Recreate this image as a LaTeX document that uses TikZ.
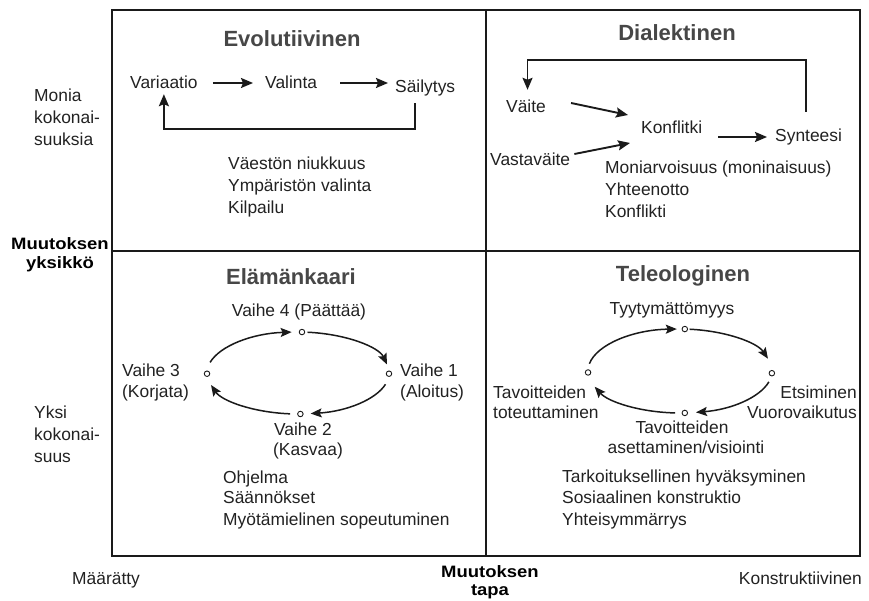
\documentclass[tikz,border=0pt]{standalone}
\usepackage{fontspec}
\setmainfont{Liberation Sans}
\newfontfamily\widebold{Liberation Sans}[FakeStretch=1.12]
\usetikzlibrary{arrows.meta,calc}
\definecolor{ink}{HTML}{222222}
\definecolor{titlegray}{HTML}{474747}
\definecolor{linec}{HTML}{1A1A1A}

\begin{document}
\begin{tikzpicture}[x=1pt,y=1pt,
  lbl/.style={font=\fontsize{17.4}{21}\selectfont, text=ink, inner sep=0pt,
              text height=13pt, text depth=4pt},
  ttl/.style={font=\fontsize{22}{26}\selectfont\bfseries, text=titlegray,
              inner sep=0pt, anchor=base},
  axislbl/.style={font=\widebold\bfseries\fontsize{16.5}{20}\selectfont, text=black,
              inner sep=0pt, anchor=base},
  flow/.style={draw=linec, line width=1.9pt,
              -{Stealth[length=12pt,width=10pt,inset=2pt]}},
  cyc/.style={draw=linec, line width=1.5pt,
              -{Stealth[length=11pt,width=9pt,inset=2pt]}},
  stagept/.style={circle, draw=linec, line width=0.9pt, fill=white,
              inner sep=0pt, minimum size=5.5pt},
  frame/.style={draw=linec, line width=1.9pt}
]
\useasboundingbox (0,0) rectangle (869,600);
\fill[white] (0,0) rectangle (869,600);

% four-field frame
\draw[frame] (112,44) rectangle (860,590);
\draw[frame] (486,44) -- (486,590);
\draw[frame] (112,349) -- (860,349);

% vertical axis
\node[lbl, anchor=base west] (m1) at (34,498) {Monia};
\node[lbl, anchor=base west] (m2) at (34,476) {kokonai-};
\node[lbl, anchor=base west] (m3) at (34,454) {suuksia};
\node[axislbl] (ay1) at (60,350) {Muutoksen};
\node[axislbl] (ay2) at (60,331) {yksikkö};
\node[lbl, anchor=base west] (y1) at (34,182) {Yksi};
\node[lbl, anchor=base west] (y2) at (34,160) {kokonai-};
\node[lbl, anchor=base west] (y3) at (34,138) {suus};

% horizontal axis
\node[lbl, anchor=base west] (bx1) at (72,16) {Määrätty};
\node[axislbl] (ax1) at (490,23) {Muutoksen};
\node[axislbl] (ax2) at (490,5) {tapa};
\node[lbl, anchor=base east] (bx2) at (862,16) {Konstruktiivinen};

% ---- Evolutiivinen ----
\node[ttl] (t1) at (292,553) {Evolutiivinen};
\node[lbl, anchor=base west] (var) at (130,511) {Variaatio};
\node[lbl, anchor=base west] (val) at (265,511) {Valinta};
\node[lbl, anchor=base west] (sai) at (395,507) {Säilytys};
\draw[flow] ($(var.east)+(15,1.5)$) -- ($(val.west)+(-12,1.5)$);
\draw[flow] ($(val.east)+(23,1.5)$) -- ($(sai.west)+(-7,5.5)$);
\draw[flow] ($(sai.south)+(-10.5,-6)$) -- ++(0,-26) -| ($(var.south)+(0,-1)$);
\node[lbl, anchor=base west] (e1) at (228,430) {Väestön niukkuus};
\node[lbl, anchor=base west] (e2) at (228,408) {Ympäristön valinta};
\node[lbl, anchor=base west] (e3) at (228,386) {Kilpailu};

% ---- Dialektinen ----
\node[ttl] (t2) at (677,559) {Dialektinen};
\node[lbl, anchor=base west] (vai) at (506,487) {Väite};
\node[lbl, anchor=base west] (kon) at (641,466) {Konflitki};
\node[lbl, anchor=base west] (syn) at (775,458) {Synteesi};
\node[lbl, anchor=base west] (vas) at (490,434) {Vastaväite};
\draw[flow] ($(vai.east)+(25,5.5)$) -- ($(kon.west)+(-13,14.5)$);
\draw[flow] ($(vas.east)+(4,7.5)$) -- ($(kon.west)+(-11,-13.5)$);
\draw[flow] ($(kon.east)+(16,-7.5)$) -- ($(syn.west)+(-8,0.5)$);
\draw[flow] ($(syn.north)+(-3,17)$) -- ++(0,52) -| ($(vai.north)+(1.5,10)$);
\node[lbl, anchor=base west] (d1) at (605,426) {Moniarvoisuus (moninaisuus)};
\node[lbl, anchor=base west] (d2) at (605,404) {Yhteenotto};
\node[lbl, anchor=base west] (d3) at (605,382) {Konflikti};

% ---- Elämänkaari ----
\node[ttl] (t3) at (291,315) {Elämänkaari};
\coordinate (lc) at (298,227);
\node[stagept] (l4) at ($(lc)+(87.5:91 and 41)$) {};
\node[stagept] (l1) at ($(lc)+(-1:91 and 41)$) {};
\node[stagept] (l2) at ($(lc)+(-88.5:91 and 41)$) {};
\node[stagept] (l3) at ($(lc)+(181:91 and 41)$) {};
\draw[cyc] ($(lc)+(165:91 and 41)$) arc[start angle=165, end angle=94, x radius=91, y radius=41];
\draw[cyc] ($(lc)+(84:91 and 41)$) arc[start angle=84, end angle=12, x radius=91, y radius=41];
\draw[cyc] ($(lc)+(-16:91 and 41)$) arc[start angle=-16, end angle=-82, x radius=91, y radius=41];
\draw[cyc] ($(lc)+(-95:91 and 41)$) arc[start angle=-95, end angle=-163, x radius=91, y radius=41];
\node[lbl, anchor=base] (v4) at (299,283) {Vaihe 4 (Päättää)};
\node[lbl, anchor=base west] (v1a) at (400,223) {Vaihe 1};
\node[lbl, anchor=base west] (v1b) at (400,203) {(Aloitus)};
\node[lbl, anchor=base west] (v3a) at (122,223) {Vaihe 3};
\node[lbl, anchor=base west] (v3b) at (122,203) {(Korjata)};
\node[lbl, anchor=base] (v2a) at (303,165) {Vaihe 2};
\node[lbl, anchor=base] (v2b) at (308,145) {(Kasvaa)};
\node[lbl, anchor=base west] (k1) at (223,117) {Ohjelma};
\node[lbl, anchor=base west] (k2) at (223,97) {Säännökset};
\node[lbl, anchor=base west] (k3) at (223,75) {Myötämielinen sopeutuminen};

% ---- Teleologinen ----
\node[ttl] (t4) at (683,318) {Teleologinen};
\coordinate (tc) at (680,229);
\node[stagept] (p1) at ($(tc)+(87:92 and 42)$) {};
\node[stagept] (p2) at ($(tc)+(-3:92 and 42)$) {};
\node[stagept] (p3) at ($(tc)+(-87:92 and 42)$) {};
\node[stagept] (p4) at ($(tc)+(182:92 and 42)$) {};
\draw[cyc] ($(tc)+(170:92 and 42)$) arc[start angle=170, end angle=92, x radius=92, y radius=42];
\draw[cyc] ($(tc)+(84:92 and 42)$) arc[start angle=84, end angle=17, x radius=92, y radius=42];
\draw[cyc] ($(tc)+(-15:92 and 42)$) arc[start angle=-15, end angle=-80, x radius=92, y radius=42];
\draw[cyc] ($(tc)+(-93:92 and 42)$) arc[start angle=-93, end angle=-158, x radius=92, y radius=42];
\node[lbl, anchor=base] (s1) at (672,285) {Tyytymättömyys};
\node[lbl, anchor=base west] (s4a) at (493,202) {Tavoitteiden};
\node[lbl, anchor=base west] (s4b) at (493,182) {toteuttaminen};
\node[lbl, anchor=base east] (s2a) at (857,202) {Etsiminen};
\node[lbl, anchor=base east] (s2b) at (857,182) {Vuorovaikutus};
\node[lbl, anchor=base] (s3a) at (682,167) {Tavoitteiden};
\node[lbl, anchor=base] (s3b) at (686,147) {asettaminen/visiointi};
\node[lbl, anchor=base west] (r1) at (562,118) {Tarkoituksellinen hyväksyminen};
\node[lbl, anchor=base west] (r2) at (562,97) {Sosiaalinen konstruktio};
\node[lbl, anchor=base west] (r3) at (562,75) {Yhteisymmärrys};
\end{tikzpicture}
\end{document}
